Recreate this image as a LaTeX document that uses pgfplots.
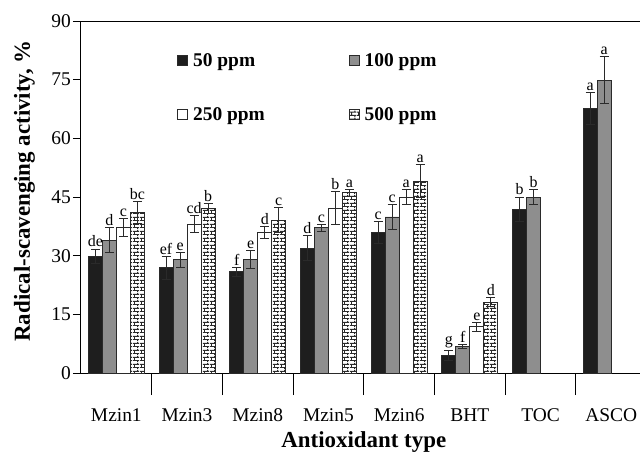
\documentclass[border=0pt]{standalone}
\usepackage{pgfplots}
\pgfplotsset{compat=1.18}
\usepackage{pgfplotstable}
\usepackage{fontspec}
\setmainfont{Liberation Serif}
\usetikzlibrary{patterns}

\pgfdeclarepatternformonly{mybricks}{\pgfpointorigin}{\pgfqpoint{7bp}{7bp}}{\pgfqpoint{7bp}{7bp}}{%
  \pgfsetlinewidth{1bp}%
  \pgfpathmoveto{\pgfqpoint{0bp}{1.75bp}}\pgfpathlineto{\pgfqpoint{7bp}{1.75bp}}%
  \pgfpathmoveto{\pgfqpoint{0bp}{5.25bp}}\pgfpathlineto{\pgfqpoint{7bp}{5.25bp}}%
  \pgfpathmoveto{\pgfqpoint{1.75bp}{1.75bp}}\pgfpathlineto{\pgfqpoint{1.75bp}{5.25bp}}%
  \pgfpathmoveto{\pgfqpoint{5.25bp}{5.25bp}}\pgfpathlineto{\pgfqpoint{5.25bp}{7bp}}%
  \pgfpathmoveto{\pgfqpoint{5.25bp}{0bp}}\pgfpathlineto{\pgfqpoint{5.25bp}{1.75bp}}%
  \pgfusepath{stroke}}

\definecolor{barblack}{HTML}{1E1E1E}
\definecolor{bargray}{HTML}{8E8E8E}
\definecolor{edge}{HTML}{2A2A2A}

\pgfplotstableread{
x y e l
0 29.8 1.9 de
1 26.9 2.9 ef
2 25.9 1.2 f
3 31.9 3.2 d
4 35.9 2.8 c
5 4.5 1.3 g
6 41.9 3.1 b
7 67.7 4.1 a
}\tA
\pgfplotstableread{
x y e l
0 34.0 3.2 d
1 29.0 1.9 e
2 29.0 2.3 e
3 37.1 0.9 c
4 39.9 3.2 c
5 6.8 0.5 f
6 45.0 2.0 b
7 74.9 5.9 a
}\tB
\pgfplotstableread{
x y e l
0 37.1 2.3 c
1 38.1 2.2 cd
2 36.0 1.5 d
3 42.1 4.2 b
4 45.0 1.9 a
5 11.8 1.2 e
}\tC
\pgfplotstableread{
x y e l
0 41.0 2.8 bc
1 42.1 1.2 b
2 39.1 3.1 c
3 46.1 0.9 a
4 49.1 4.2 a
5 18.1 1.2 d
}\tD

\pgfplotsset{
  mybar/.style={
    ybar, bar width=0.198, bar shift=0, draw=edge, line width=0.9bp,
    error bars/.cd, y dir=both, y explicit,
      error bar style={line width=1bp, draw=edge},
      error mark options={rotate=90, mark size=4.5bp, line width=1bp, draw=edge},
    /pgfplots/.cd,
    point meta=explicit symbolic,
    nodes near coords,
    visualization depends on={\thisrow{e} \as \myerr},
    nodes near coords style={anchor=south, inner sep=1.5bp, text=black,
      font=\fontsize{16}{18}\selectfont,
      shift={(axis direction cs:0,\myerr)}},
    legend image code/.code={\draw[##1, line width=0.8bp] (0bp,-5bp) rectangle (10bp,5bp);},
  },
}

\begin{document}
\begin{tikzpicture}
\useasboundingbox (-81bp,-87bp) rectangle (559bp,373bp);
\begin{axis}[
  at={(0,0)}, anchor=south west,
  scale only axis, width=565.6bp, height=352bp,
  xmin=-0.5, xmax=7.5, ymin=0, ymax=90,
  ytick={0,15,...,90},
  xtick={0,...,7},
  xticklabels={Mzin1,Mzin3,Mzin8,Mzin5,Mzin6,BHT,TOC,ASCO},
  major x tick style={draw=none},
  minor xtick={0.5,1.5,...,6.5},
  minor tick length=22bp,
  minor x tick style={draw=black, line width=1bp},
  tick align=outside, tick pos=left, major tick length=8bp,
  axis line style={line width=1bp, black},
  tick style={line width=1bp, black},
  /pgf/number format/assume math mode=true,
  ticklabel style={font=\fontsize{19.5}{22}\selectfont},
  xticklabel style={yshift=-24bp},
  yticklabel style={inner sep=2bp},
  xlabel={\textbf{Antioxidant type}},
  ylabel={\textbf{Radical-scavenging activity, \%}},
  label style={font=\fontsize{23}{26}\selectfont},
  xlabel style={at={(axis description cs:0.5,-0.195)}, anchor=center},
  ylabel style={at={(axis description cs:-0.1,0.517)}, anchor=center},
  legend columns=2,
  legend style={draw=none, fill=none, inner sep=0pt,
    at={(axis description cs:0.170,0.915)}, anchor=north west,
    font=\bfseries\fontsize{19.5}{22}\selectfont,
    row sep=36bp,
    /tikz/every odd column/.append style={column sep=3bp},
    /tikz/every even column/.append style={column sep=82bp}},
  legend cell align=left,
]
\addplot[mybar, fill=barblack] table[x expr=\thisrow{x}-0.297, y=y, y error=e, meta=l] {\tA};
\addplot[mybar, fill=bargray] table[x expr=\thisrow{x}-0.099, y=y, y error=e, meta=l] {\tB};
\addplot[mybar, fill=white] table[x expr=\thisrow{x}+0.099, y=y, y error=e, meta=l] {\tC};
\addplot[mybar, fill=white, postaction={pattern=mybricks, pattern color=edge}] table[x expr=\thisrow{x}+0.297, y=y, y error=e, meta=l] {\tD};
\legend{50 ppm, 100 ppm, 250 ppm, 500 ppm}
\end{axis}
\end{tikzpicture}
\end{document}
